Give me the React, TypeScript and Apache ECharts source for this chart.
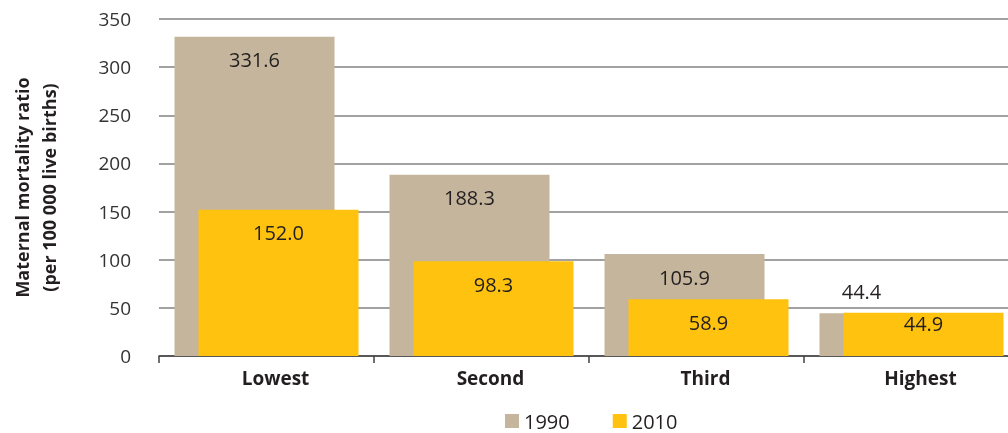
import React, { useEffect, useRef } from "react";
import * as echarts from "echarts";

const categories = ["Lowest", "Second", "Third", "Highest"];
const series1990 = [331.6, 188.3, 105.9, 44.4];
const series2010 = [152.0, 98.3, 58.9, 44.9];
const seriesNames = ["1990", "2010"];
const yTicks = { min: 0, max: 350, interval: 50 };

const FONT = "'Open Sans', 'Noto Sans', sans-serif";
const TEXT = "#231f20";

export default function App() {
  const ref = useRef<HTMLDivElement>(null);
  useEffect(() => {
    if (!ref.current) return;
    const chart = echarts.init(ref.current, null, { renderer: "svg" });
    const labelBase = {
      show: true,
      position: "insideTop",
      distance: 13,
      color: TEXT,
      fontFamily: FONT,
      fontSize: 20,
      formatter: (p: any) => Number(p.value).toFixed(1),
    };
    chart.setOption({
      animation: false,
      textStyle: { fontFamily: FONT },
      grid: { left: 159, top: 19, width: 860, height: 337, outerBoundsMode: "none", containLabel: false },
      legend: {
        data: seriesNames,
        left: 500,
        top: 406,
        itemWidth: 14,
        itemHeight: 14,
        itemGap: 43,
        icon: "rect",
        textStyle: { fontFamily: FONT, fontSize: 20, color: TEXT },
      },
      xAxis: {
        type: "category",
        data: categories,
        axisLine: { show: true, lineStyle: { color: "#404040", width: 1.5 } },
        axisTick: { show: true, alignWithLabel: false, length: 7, lineStyle: { color: "#404040", width: 1.5 } },
        axisLabel: {
          color: TEXT,
          fontFamily: FONT,
          fontWeight: "bold",
          fontSize: 19,
          margin: 12,
          padding: [0, 0, 0, 18],
        },
      },
      yAxis: {
        type: "value",
        min: yTicks.min,
        max: yTicks.max,
        interval: yTicks.interval,
        name: "Maternal mortality ratio\n(per 100 000 live births)",
        nameLocation: "middle",
        nameRotate: 90,
        nameGap: 97,
        nameTextStyle: {
          fontFamily: FONT,
          fontWeight: "bold",
          fontSize: 18,
          lineHeight: 27,
          color: TEXT,
        },
        axisLine: { show: false },
        axisTick: { show: false },
        axisLabel: { color: "#333333", fontFamily: FONT, fontSize: 19, margin: 28 },
        splitLine: { show: true, lineStyle: { color: "#828282", width: 1.5 } },
      },
      series: [
        {
          name: seriesNames[0],
          type: "bar",
          barWidth: 160,
          barGap: "-85%",
          itemStyle: { color: "#c4b59c" },
          label: labelBase,
          data: series1990.map((v, i) =>
            i === 3
              ? { value: v, label: { position: "top", distance: 12, offset: [-38, 0] } }
              : v
          ),
        },
        {
          name: seriesNames[1],
          type: "bar",
          barWidth: 160,
          itemStyle: { color: "#ffc20e" },
          label: labelBase,
          data: series2010.map((v, i) =>
            i === 3 ? { value: v, label: { distance: 1 } } : v
          ),
        },
      ],
    });
    return () => chart.dispose();
  }, []);
  return (
    <div
      ref={ref}
      style={{ position: "fixed", left: 0, top: 0, width: 1008, height: 433 }}
    />
  );
}
